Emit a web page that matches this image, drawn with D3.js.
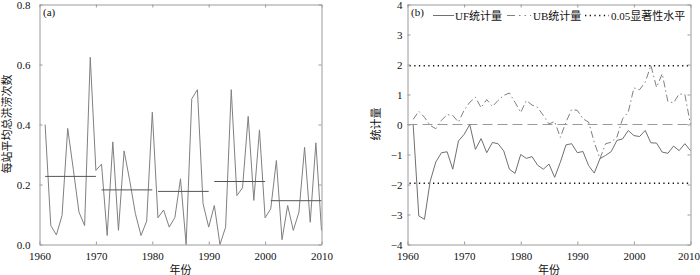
<!DOCTYPE html>
<html>
<head>
<meta charset="utf-8">
<script src="https://cdn.jsdelivr.net/npm/d3@7"></script>
<style>
  body { margin: 0; background: #fff; }
  svg text { font-family: "Liberation Serif", "Noto Sans CJK SC", serif; fill: #111; }
</style>
</head>
<body>
<svg id="chart" width="700" height="275"></svg>
<script>
// ---- data ----
const years = d3.range(1961, 2011);
const floodCount = [
  0.40, 0.063, 0.032, 0.097, 0.387, 0.25, 0.108, 0.063, 0.624, 0.247,
  0.268, 0.03, 0.342, 0.047, 0.312, 0.213, 0.103, 0.03, 0.078, 0.441,
  0.089, 0.115, 0.058, 0.09, 0.219, 0.0, 0.486, 0.516, 0.136, 0.058,
  0.13, 0.0, 0.058, 0.516, 0.163, 0.189, 0.427, 0.147, 0.382, 0.089,
  0.119, 0.28, 0.016, 0.13, 0.047, 0.108, 0.324, 0.074, 0.339, 0.047
];
const decadeStart = [1961, 1971, 1981, 1991, 2001];
const decadeEnd = [1970, 1980, 1990, 2000, 2010];
const decadeMean = [0.227, 0.182, 0.177, 0.21, 0.146];

const ufStat = [
  0, -3.05, -3.16, -1.9, -1.25, -0.94, -0.91, -1.49, -0.55, -0.33,
  0.0, -0.83, -0.47, -0.94, -0.6, -0.64, -0.88, -1.49, -1.63, -1.0,
  -1.13, -1.07, -1.36, -1.49, -1.32, -1.76, -1.26, -0.68, -0.64, -0.94,
  -0.9, -1.37, -1.62, -1.14, -1.03, -0.9, -0.53, -0.48, -0.2, -0.37,
  -0.4, -0.2, -0.61, -0.62, -0.92, -0.96, -0.72, -0.87, -0.64, -0.87
];
const ubStat = [
  0.17, 0.44, 0.24, -0.03, -0.14, 0.14, 0.33, 0.3, 0.08, 0.47,
  0.74, 0.91, 0.56, 0.83, 0.6, 0.8, 0.97, 1.05, 0.74, 0.4,
  0.8, 0.65, 0.57, 0.3, 0.02, 0.1, -0.43, 0.08, 0.5, 0.47,
  0.19, 0.08, -0.59, -1.14, -0.64, -0.59, -0.42, 0.19, 0.41, 1.22,
  1.16, 1.41, 1.97, 1.24, 1.69, 0.77, 0.72, 1.02, 1.0, 0.0
];
const sigLevel = 1.96;

const yearTicks = [1960, 1970, 1980, 1990, 2000, 2010];
const countTicks = [0, 0.2, 0.4, 0.6, 0.8];
const statTicks = [-4, -3, -2, -1, 0, 1, 2, 3, 4];
const legendLabels = ['UF统计量', 'UB统计量', '0.05显著性水平'];

const svg = d3.select('#chart');
const FRAME = '#9a9a9a';

function drawFrame(x, y, yTicks, yFmt, yPad) {
  const [x0, x1] = x.range();
  const [yb, yt] = y.range();
  const style = a => a
    .call(s => s.selectAll('path,line').attr('stroke', FRAME))
    .call(s => s.selectAll('text').attr('font-size', 11).attr('fill', '#111'));

  const bottom = svg.append('g').attr('transform', `translate(0,${yb})`)
    .call(d3.axisBottom(x).tickValues(yearTicks).tickSize(-3).tickSizeOuter(0)
      .tickPadding(8).tickFormat(d3.format('d')))
    .call(style);
  // keep the last year label inside the window
  if (x1 > 680) bottom.selectAll('.tick:last-of-type text').attr('dx', -2);

  svg.append('g').attr('transform', `translate(0,${yt})`)
    .call(d3.axisTop(x).tickValues(yearTicks).tickSize(-3).tickSizeOuter(0).tickFormat(''))
    .call(style);
  svg.append('g').attr('transform', `translate(${x0},0)`)
    .call(d3.axisLeft(y).tickValues(yTicks).tickSize(-3).tickSizeOuter(0)
      .tickPadding(yPad).tickFormat(yFmt))
    .call(style);
  svg.append('g').attr('transform', `translate(${x1},0)`)
    .call(d3.axisRight(y).tickValues(yTicks).tickSize(-3).tickSizeOuter(0).tickFormat(''))
    .call(style);
}

function addLabels(x, y, cx, cy, text, xLabelY, tag) {
  svg.append('text')
    .attr('transform', `translate(${cx},${cy}) rotate(-90)`)
    .attr('text-anchor', 'middle')
    .attr('dy', '0.35em')
    .attr('font-size', 11)
    .text(text);
  svg.append('text')
    .attr('x', (x.range()[0] + x.range()[1]) / 2)
    .attr('y', xLabelY)
    .attr('text-anchor', 'middle')
    .attr('font-size', 11)
    .text('年份');
  svg.append('text')
    .attr('x', x.range()[0] + 3.5)
    .attr('y', 15.5)
    .attr('font-size', 11)
    .text(tag);
}

// ---- panel (a) ----
const xa = d3.scaleLinear().domain([1960, 2010]).range([39.5, 321.5]);
const ya = d3.scaleLinear().domain([0, 0.8]).range([244.5, 4.5]);

svg.append('path')
  .datum(years.map((yr, i) => [yr, floodCount[i]]))
  .attr('fill', 'none')
  .attr('stroke', '#808080')
  .attr('stroke-width', 1)
  .attr('d', d3.line().x(d => xa(d[0])).y(d => ya(d[1])));

svg.append('g').selectAll('line')
  .data(decadeMean)
  .join('line')
  .attr('x1', (d, i) => xa(decadeStart[i]))
  .attr('x2', (d, i) => xa(decadeEnd[i]))
  .attr('y1', d => ya(d))
  .attr('y2', d => ya(d))
  .attr('stroke', '#555')
  .attr('stroke-width', 1);

drawFrame(xa, ya, countTicks, d3.format('.1f'), 9);
addLabels(xa, ya, 7, 124, '每站平均总洪涝次数', 273.5, '(a)');

// ---- panel (b) ----
const xb = d3.scaleLinear().domain([1960, 2010]).range([407.5, 690.5]);
const yb = d3.scaleLinear().domain([-4, 4]).range([244.5, 4.5]);

// significance lines
svg.append('g').selectAll('line')
  .data([sigLevel, -sigLevel])
  .join('line')
  .attr('x1', xb(1960) + 2).attr('x2', xb(2010))
  .attr('y1', d => yb(d)).attr('y2', d => yb(d))
  .attr('stroke', '#111')
  .attr('stroke-width', 1.4)
  .attr('stroke-dasharray', '1.3,3.4');

svg.append('line')
  .attr('x1', xb(1960)).attr('x2', xb(2010))
  .attr('y1', yb(0)).attr('y2', yb(0))
  .attr('stroke', '#9a9a9a')
  .attr('stroke-width', 1)
  .attr('stroke-dasharray', '10,5');

const lineB = d3.line().x(d => xb(d[0])).y(d => yb(d[1]));

svg.append('path')
  .datum(years.map((yr, i) => [yr, ubStat[i]]))
  .attr('fill', 'none')
  .attr('stroke', '#808080')
  .attr('stroke-width', 1)
  .attr('stroke-dasharray', '7,3,1.5,3')
  .attr('d', lineB);

svg.append('path')
  .datum(years.map((yr, i) => [yr, ufStat[i]]))
  .attr('fill', 'none')
  .attr('stroke', '#707070')
  .attr('stroke-width', 1)
  .attr('d', lineB);

drawFrame(xb, yb, statTicks, d3.format('d'), 5);
addLabels(xb, yb, 376, 124, '统计量', 273.5, '(b)');

// legend
const legend = svg.append('g');
const legendX = [433, 507, 585];
const legendDash = [null, '8,4,1.5,4,1.5,4', '1.3,3.4'];
const legendColor = ['#707070', '#808080', '#111'];
const legendWidth = [1, 1, 1.4];
legendLabels.forEach((label, i) => {
  legend.append('line')
    .attr('x1', legendX[i]).attr('x2', legendX[i] + (i === 0 ? 21 : 24))
    .attr('y1', 15.5).attr('y2', 15.5)
    .attr('stroke', legendColor[i])
    .attr('stroke-width', legendWidth[i])
    .attr('stroke-dasharray', legendDash[i]);
  legend.append('text')
    .attr('x', legendX[i] + (i === 0 ? 22 : 26))
    .attr('y', 19.5)
    .attr('font-size', 11)
    .text(label);
});
</script>
</body>
</html>
